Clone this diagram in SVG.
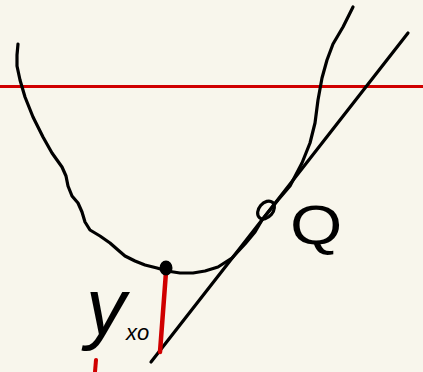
<svg xmlns="http://www.w3.org/2000/svg" width="423" height="372" viewBox="0 0 423 372">
<style>
.ink{fill:none;stroke:#000;stroke-width:3.2;stroke-linecap:round;stroke-linejoin:round}
.red{fill:none;stroke:#d00000;stroke-linecap:round}
.lbl{font-family:"Liberation Sans","DejaVu Sans",sans-serif;fill:#000}
</style>
<rect width="423" height="372" fill="#f8f6ec"/>
<g id="connectors">
<line id="level-line" x1="0" y1="86.5" x2="423" y2="86.5" class="red" stroke-width="3"/>
<path id="curve" class="ink" d="M18,44 L17,55 L17,66 L20,80 L25,97 L33,117 L43,137 L52,153 L62,167 L66,176 L68,186 L72,196 L78,203 L82,212 L85,222 L90,230 L100,236 L110,243 L118,250 L125,256 L135,261 L145,265 L157,268 L167,271 L180,273 L193,273 L205,271 L218,267 L232,258 L245,244 L255,232 L262,220 L270,210 L278,200 L290,186 L302,163 L310,143 L315,123 L318,100 L322,78 L327,60 L333,44 L343,27 L348,17 L353,7"/>
<line id="tangent" x1="151" y1="362" x2="408" y2="33" class="ink" stroke-width="2.5"/>
<line id="yx0-segment" x1="166" y1="272" x2="160" y2="352" class="red" stroke-width="4.5"/>
<line id="red-mark" x1="96" y1="360" x2="95" y2="372" class="red" stroke-width="4"/>
</g>
<g id="point-min">
<ellipse cx="166" cy="268" rx="5.5" ry="6.5" fill="#000" stroke="#000" stroke-width="2"/>
</g>
<g id="point-Q">
<ellipse cx="266" cy="210" rx="7" ry="10" transform="rotate(40 266 210)" class="ink" stroke-width="3.5"/>
</g>
<g id="label-Q">
<text x="290" y="244" class="lbl" font-size="56" transform="translate(290 0) scale(1.2 1) translate(-290 0)">Q</text>
</g>
<g id="label-yx0">
<text x="86" y="334" class="lbl" font-size="80" font-style="italic">y<tspan font-size="22" dy="6">xo</tspan></text>
</g>
</svg>
